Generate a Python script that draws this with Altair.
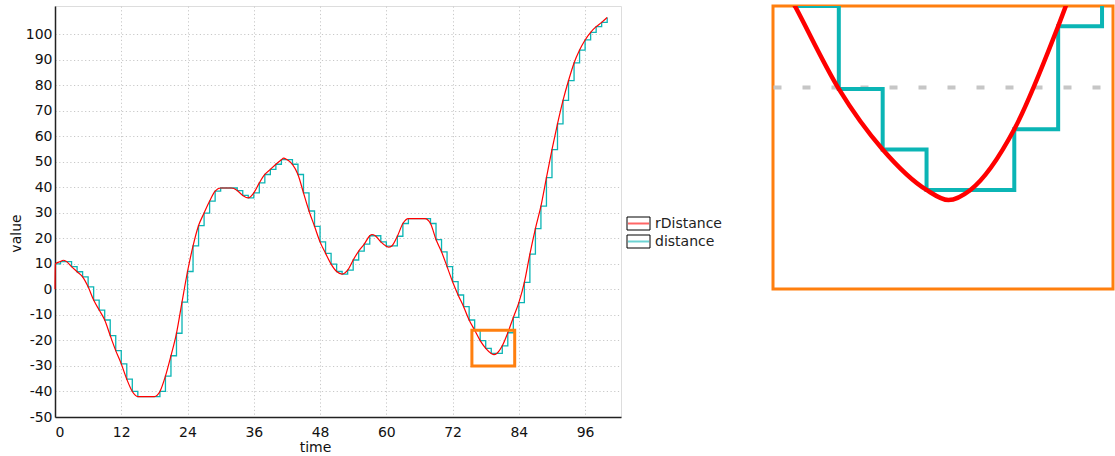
import altair as alt
import pandas as pd

# ---- data ----
time = list(range(0, 101))
distance = [10, 10.9, 10.9, 8.9, 6.9, 4.9, 1, -4.2, -8.1, -12,
            -18.1, -24, -29.2, -35.2, -40, -42, -42, -42, -42, -40,
            -34, -26, -17.2, -5, 7, 17, 25, 29.9, 34.6, 38.5,
            39.7, 39.7, 39.7, 38.7, 36.8, 35.8, 37.8, 41.7, 45, 47,
            49, 50.8, 50.8, 49, 45, 37.8, 30.7, 24.7, 18.6, 14.1,
            9.9, 7, 6, 7.5, 11.5, 15, 17.7, 21, 21, 18.6,
            16.9, 17, 20.8, 25.8, 27.7, 27.7, 27.7, 27.7, 25.8, 19.5,
            14.7, 8.9, 3, -2.2, -6.8, -12, -16, -20.1, -23.1, -25.1,
            -25.1, -22.1, -17, -11, -5.2, 2.7, 13.8, 23.8, 32.6, 43.75,
            54.7, 64.8, 74, 81.8, 88.7, 93.75, 97.7, 100.7, 102.9, 104.6, 106.5]

r_time = [0, 0.05, 1, 1.5, 2, 3, 4, 5, 6, 7, 8, 9, 10, 11, 12, 13, 14, 15, 16, 17, 18, 19,
          20, 21, 22, 23, 24, 25, 26, 27, 28, 29, 30, 31, 32, 33, 34, 35, 36, 37, 38, 39,
          40, 41, 41.4, 42, 43, 44, 45, 46, 47, 48, 49, 50, 51, 52, 53, 54, 55, 56, 57, 57.4,
          58, 59, 60, 60.4, 61, 62, 63, 64, 65, 66, 67, 68, 69, 70, 71, 72, 73, 74, 75, 76,
          77, 78, 79, 79.5, 80, 81, 82, 83, 84, 85, 86, 87, 88, 89, 90, 91, 92, 93, 94, 95,
          96, 97, 98, 99, 100]
r_value = [0, 10, 10.9, 11.4, 11.0, 8.9, 6.9, 4.9, 1, -4.2, -8.1, -12, -18.1, -24, -29.2, -35.2, -40, -42, -42, -42, -42, -40,
           -34, -26, -17.2, -5, 7, 17, 25, 29.9, 34.6, 38.5, 39.7, 39.7, 39.7, 38.7, 36.8, 35.8, 37.8, 41.7, 45, 47,
           49, 50.8, 51.4, 50.8, 49, 45, 37.8, 30.7, 24.7, 18.6, 14.1, 9.9, 7, 6, 7.5, 11.5, 15, 17.7, 21, 21.5,
           21, 18.6, 16.9, 16.5, 17, 20.8, 25.8, 27.7, 27.7, 27.7, 27.7, 25.8, 19.5, 14.7, 8.9, 3, -2.2, -6.8, -12, -16,
           -20.1, -23.1, -25.1, -25.6, -25.1, -22.1, -17, -11, -5.2, 2.7, 13.8, 23.8, 32.6, 43.75, 54.7, 64.8, 74, 81.8, 88.7, 93.75,
           97.7, 100.7, 102.9, 104.6, 106.5]

series_names = ["rDistance", "distance"]
series_colors = ["#ff0000", "#0bb5b5"]
x_ticks = [0, 12, 24, 36, 48, 60, 72, 84, 96]
y_ticks = [-50, -40, -30, -20, -10, 0, 10, 20, 30, 40, 50, 60, 70, 80, 90, 100]
x_domain = [0, 102.5]
y_domain = [-50, 111]
zoom_x = [75.5, 83.25]
zoom_y = [-30, -16]
zoom_grid = [-20]

FONT = "DejaVu Sans"
ORANGE = "#ff7f0e"

dist_df = pd.DataFrame({"time": time, "value": distance})
red_df = pd.DataFrame({"time": r_time, "value": r_value})
box_df = pd.DataFrame({"time": [zoom_x[0]], "time2": [zoom_x[1]],
                       "value": [zoom_y[0]], "value2": [zoom_y[1]]})

# ---- main chart ----
xm = alt.X("time:Q", scale=alt.Scale(domain=x_domain, nice=False, zero=False),
           axis=alt.Axis(values=x_ticks, title="time", ticks=False, labelPadding=8,
                         labelOverlap=False, labelExpr="toString(datum.value)",
                         titlePadding=1, titleX=260, titleAlign="center",
                         grid=True, gridDash=[1.2, 2.5], gridColor="#c8c8c8",
                         domainColor="#222", domainWidth=1.5,
                         labelFontSize=14, titleFontSize=14, titleFontWeight="normal",
                         labelColor="#111", titleColor="#111", labelFont=FONT, titleFont=FONT))
ym = alt.Y("value:Q", scale=alt.Scale(domain=y_domain, nice=False, zero=False),
           axis=alt.Axis(values=y_ticks, title="value", ticks=False, labelPadding=3,
                         labelOverlap=False, labelSeparation=0, tickCount=16,
                         labelExpr="toString(datum.value)",
                         titlePadding=2, titleY=227, titleAlign="center",
                         grid=True, gridDash=[1.2, 2.5], gridColor="#c8c8c8",
                         domainColor="#222", domainWidth=1.5,
                         labelFontSize=14, titleFontSize=14, titleFontWeight="normal",
                         labelColor="#111", titleColor="#111", labelFont=FONT, titleFont=FONT))

cyan_line = alt.Chart(dist_df).mark_line(interpolate="step-after", color=series_colors[1],
                                         strokeWidth=1.3).encode(x=xm, y=ym)
red_line = alt.Chart(red_df).mark_line(interpolate="monotone", color=series_colors[0],
                                       strokeWidth=1.2).encode(x=xm, y=ym)
box = alt.Chart(box_df).mark_rect(fill=None, stroke=ORANGE, strokeWidth=3).encode(
    x=xm, x2="time2:Q", y=ym, y2="value2:Q")

legend_layers = []
for i, (name, col) in enumerate(zip(series_names, series_colors)):
    cy = 217.5 + 18 * i
    ldf = pd.DataFrame({"label": [name]})
    legend_layers.append(alt.Chart(ldf).mark_rect(fill="white", stroke="black", strokeWidth=1).encode(
        x=alt.value(572), x2=alt.value(595), y=alt.value(cy - 6.5), y2=alt.value(cy + 6.5)))
    legend_layers.append(alt.Chart(ldf).mark_rule(color=col, strokeWidth=2, opacity=0.6).encode(
        x=alt.value(573), x2=alt.value(594), y=alt.value(cy)))
    legend_layers.append(alt.Chart(ldf).mark_text(align="left", baseline="middle", font=FONT,
                                                  fontSize=14, color="#222").encode(
        x=alt.value(600), y=alt.value(cy), text="label:N"))

main = alt.layer(cyan_line, red_line, box, *legend_layers).properties(
    width=566, height=411)

# ---- zoom panel ----
xz = alt.X("time:Q", scale=alt.Scale(domain=zoom_x, nice=False, zero=False), axis=None)
yz = alt.Y("value:Q", scale=alt.Scale(domain=zoom_y, nice=False, zero=False),
           axis=alt.Axis(values=zoom_grid, grid=True, labels=False, ticks=False, domain=False,
                         title=None, minExtent=0, maxExtent=0,
                         gridDash=[8, 21], gridWidth=4, gridColor="#c6c6c6"))
z_cyan = alt.Chart(dist_df).mark_line(interpolate="step-after", color=series_colors[1],
                                      strokeWidth=4, clip=True).encode(x=xz, y=yz)
z_red = alt.Chart(red_df).mark_line(interpolate="monotone", color=series_colors[0],
                                    strokeWidth=4.5, clip=True).encode(x=xz, y=yz)
panel = alt.layer(z_cyan, z_red).properties(
    width=340, height=283,
    view=alt.ViewBackground(stroke=ORANGE, strokeWidth=3))

chart = alt.hconcat(main, panel, spacing=48).properties(
    padding={"left": 8, "top": 4, "right": 0, "bottom": 2}
).configure_view(stroke="#555", strokeWidth=1.5).configure(font=FONT).configure_axisY(
    labelOverlap=False)

chart.save("out.html", embed_options={"renderer": "svg", "actions": False})
